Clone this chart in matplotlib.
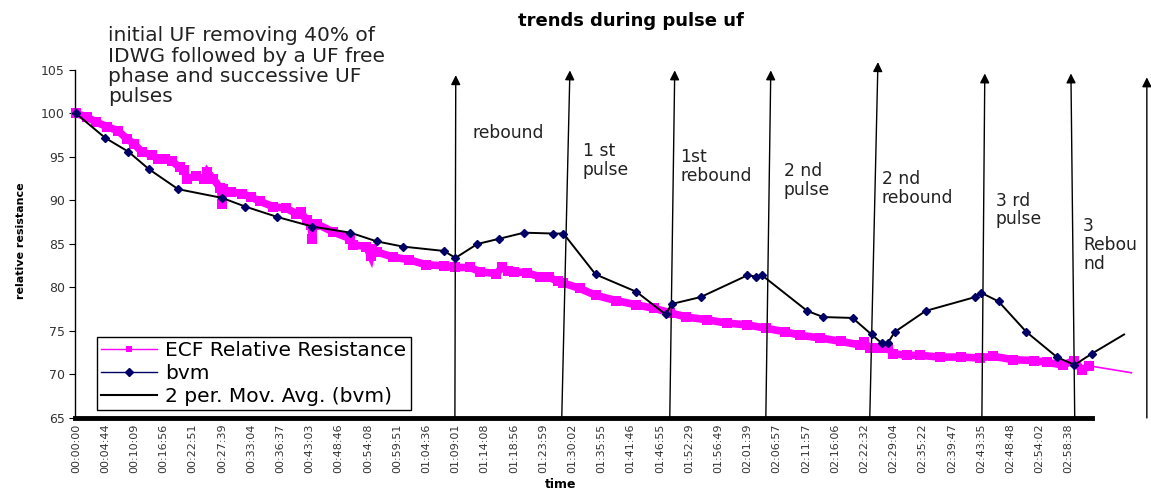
import matplotlib
matplotlib.use("Agg")
import matplotlib.pyplot as plt
from matplotlib.lines import Line2D

# category labels on the time axis
time_labels = ["00:00:00", "00:04:44", "00:10:09", "00:16:56", "00:22:51", "00:27:39",
               "00:33:04", "00:36:37", "00:43:03", "00:48:46", "00:54:08", "00:59:51",
               "01:04:36", "01:09:01", "01:14:08", "01:18:56", "01:23:59", "01:30:02",
               "01:35:55", "01:41:46", "01:46:55", "01:52:29", "01:56:49", "02:01:39",
               "02:06:57", "02:11:57", "02:16:06", "02:22:32", "02:29:04", "02:35:22",
               "02:39:47", "02:43:35", "02:48:48", "02:54:02", "02:58:38"]

# ECF relative resistance (position in label units, value)
ecf_x = [0, 0.37, 0.7, 1.05, 1.45, 1.74, 2.0, 2.25, 2.6, 2.8, 3.05, 3.3, 3.55, 3.7, 3.8,
         4.1, 4.4, 4.5, 4.7, 4.95, 5.0, 5.05, 5.3, 5.7, 6.0, 6.3, 6.75, 7.2, 7.55, 7.7,
         7.9, 8.05, 8.1, 8.15, 8.25, 8.8, 9.4, 9.5, 9.95, 10.1, 10.15, 10.3, 10.85, 11.4,
         12.0, 12.6, 13.0, 13.5, 13.85, 14.4, 14.6, 14.8, 15.0, 15.45, 15.9, 16.2, 16.5,
         16.7, 17.25, 17.8, 18.5, 19.2, 19.8, 20.35, 20.9, 21.6, 22.3, 23.0, 23.65, 24.3,
         24.8, 25.5, 26.2, 26.85, 27.0, 27.2, 27.5, 27.8, 28.0, 28.45, 28.9, 29.6, 30.3,
         30.95, 31.4, 32.1, 32.8, 33.25, 33.8, 34.2, 34.45, 34.7, 36.15]
ecf_y = [100.0, 99.6, 99.0, 98.5, 98.0, 97.1, 96.5, 95.6, 95.2, 94.8, 94.8, 94.5, 93.8, 93.5,
         92.5, 92.8, 92.5, 93.3, 92.5, 91.4, 89.6, 91.3, 91.0, 90.8, 90.4, 89.9, 89.3, 89.1,
         88.5, 88.7, 87.7, 87.2, 85.6, 87.2, 87.3, 86.4, 85.6, 84.9, 84.7, 83.6, 84.4, 84.1,
         83.5, 83.2, 82.6, 82.5, 82.3, 82.3, 81.8, 81.6, 82.3, 81.9, 81.8, 81.7, 81.2, 81.2,
         80.7, 80.5, 79.9, 79.1, 78.5, 78.0, 77.6, 77.1, 76.6, 76.3, 75.9, 75.7, 75.3, 74.9,
         74.5, 74.2, 73.8, 73.4, 73.7, 73.0, 73.1, 73.0, 72.4, 72.2, 72.2, 72.0, 72.0, 71.9,
         72.1, 71.7, 71.6, 71.4, 71.1, 71.6, 70.5, 71.0, 70.2]

# bvm points
bvm_x = [0, 1.0, 1.8, 2.5, 3.5, 5.0, 5.8, 6.9, 8.1, 9.4, 10.3, 11.2, 12.6, 13.0, 13.75, 14.5,
         15.35, 16.35, 16.7, 17.8, 19.2, 20.2, 20.4, 21.4, 23.0, 23.3, 23.5, 25.05, 25.6,
         26.6, 27.25, 27.6, 27.8, 28.05, 29.1, 30.8, 31.0, 31.6, 32.55, 33.6, 34.2, 34.8, 35.9]
bvm_y = [100.0, 97.2, 95.6, 93.6, 91.3, 90.3, 89.3, 88.1, 87.0, 86.3, 85.3, 84.7, 84.2, 83.4,
         85.0, 85.6, 86.3, 86.2, 86.2, 81.5, 79.5, 76.9, 78.1, 78.9, 81.4, 81.25, 81.4, 77.3,
         76.6, 76.5, 74.6, 73.6, 73.6, 74.9, 77.3, 78.9, 79.4, 78.4, 74.9, 72.0, 71.1, 72.4,
         74.6]

# phase markers: (bottom x, top x, top y) and labels
arrows = [(12.98, 13.01, 104.4), (16.64, 16.92, 104.95), (20.34, 20.51, 104.95),
          (23.63, 23.8, 104.95), (27.19, 27.47, 105.9), (31.03, 31.13, 104.6),
          (34.21, 34.08, 104.6), (36.68, 36.68, 104.15)]
phase_labels = ["rebound", "1 st\npulse", "1st\nrebound", "2 nd\npulse",
                "2 nd\nrebound", "3 rd\npulse", "3\nRebou\nnd"]
label_pos = [(13.6, 97.8), (17.36, 94.6), (20.7, 93.9), (24.25, 92.3),
             (27.6, 91.35), (31.5, 88.9), (34.5, 84.9)]

magenta = "#FF00FF"
navy = "#000066"

fig = plt.figure(figsize=(11.51, 4.91), dpi=100)
ax = fig.add_axes([0.0652, 0.1487, 0.8835, 0.7088])

# ECF band: thick line with square markers, thin tail
ax.plot(ecf_x[:-1], ecf_y[:-1], color=magenta, lw=5.5, marker="s", ms=6.5,
        mew=0, solid_joinstyle="miter", zorder=2, clip_on=False)
ax.plot(ecf_x[-2:], ecf_y[-2:], color=magenta, lw=1.2, zorder=2, clip_on=False)

# moving average line and bvm markers
ax.plot(bvm_x, bvm_y, color="black", lw=1.4, zorder=3, clip_on=False)
ax.plot(bvm_x[:-1], bvm_y[:-1], color=navy, lw=0, marker="D", ms=4,
        zorder=4, clip_on=False)

for (xb, xt, yt) in arrows:
    ax.annotate("", xy=(xt, yt), xytext=(xb, 65), annotation_clip=False,
                arrowprops=dict(arrowstyle="-|>", color="black", lw=1.0,
                                mutation_scale=14, shrinkA=0, shrinkB=0))

for txt, (tx, ty) in zip(phase_labels, label_pos):
    ax.text(tx, ty, txt, fontsize=12.3, color="#222222", ha="left", va="center",
            linespacing=1.05, clip_on=False)

ax.set_xlim(-0.03, 34.8)
ax.set_ylim(65, 105)
ax.set_yticks(range(65, 106, 5))
ax.set_xticks(range(len(time_labels)))
ax.set_xticklabels(time_labels, rotation=90, fontsize=8, color="#333333")
ax.tick_params(axis="x", length=0, pad=4)
ax.tick_params(axis="y", length=4, labelsize=9, labelcolor="#333333")

for s in ["top", "right"]:
    ax.spines[s].set_visible(False)
ax.spines["bottom"].set_linewidth(3.5)
ax.spines["left"].set_linewidth(1.0)

handles = [Line2D([], [], color=magenta, lw=1, marker="s", ms=5, mew=0),
           Line2D([], [], color=navy, lw=1, marker="D", ms=4),
           Line2D([], [], color="black", lw=1.5)]
leg = ax.legend(handles, ["ECF Relative Resistance", "bvm", "2 per. Mov. Avg. (bvm)"],
                loc="lower left", bbox_to_anchor=(0.0216, 0.023), borderaxespad=0,
                prop={"size": 14.5}, fancybox=False, edgecolor="black", framealpha=1,
                handlelength=2.8, handletextpad=0.4, borderpad=0.2, labelspacing=0.2)
leg.get_frame().set_linewidth(1.0)

fig.text(0.548, 0.958, "trends during pulse uf", fontsize=13, fontweight="bold",
         ha="center", va="center")
fig.text(0.094, 0.865, "initial UF removing 40% of\nIDWG followed by a UF free\n"
         "phase and successive UF\npulses", fontsize=14.5, color="#222222",
         ha="left", va="center", linespacing=1.08)
fig.text(0.018, 0.51, "relative resistance", rotation=90, fontsize=8,
         fontweight="bold", ha="center", va="center")
fig.text(0.487, 0.014, "time", fontsize=9, fontweight="bold", ha="center", va="center")

fig.savefig("out.png", dpi=100)
